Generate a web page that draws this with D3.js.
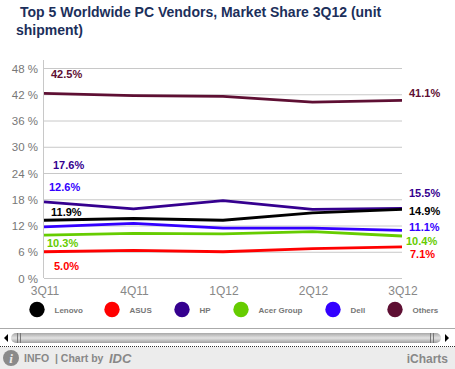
<!DOCTYPE html>
<html>
<head>
<meta charset="utf-8">
<script src="https://cdn.jsdelivr.net/npm/d3@7"></script>
<style>
  html, body { margin: 0; padding: 0; background: #fff; overflow: hidden; }
  text { font-family: "Liberation Sans", Arial, sans-serif; }
</style>
</head>
<body>
<div id="chart"></div>
<script>
// values
var quarters = ["3Q11", "4Q11", "1Q12", "2Q12", "3Q12"];
var names = ["Others", "HP", "Lenovo", "Dell", "Acer Group", "ASUS"];
var others = [42.2, 41.7, 41.5, 40.2, 40.6];
var hp = [17.4, 15.8, 17.7, 15.7, 15.9];
var lenovo = [13.2, 13.6, 13.2, 14.9, 15.7];
var dell = [11.7, 12.5, 11.4, 11.4, 10.9];
var acer = [9.8, 10.2, 10.1, 10.6, 9.6];
var asus = [6.0, 6.3, 6.0, 6.7, 7.1];
var yTicks = [0, 6, 12, 18, 24, 30, 36, 42, 48];

// legend order
var legendNames = ["Lenovo", "ASUS", "HP", "Acer Group", "Dell", "Others"];

// text labels printed on the chart
var startLabels = ["42.5%", "17.6%", "11.9%", "12.6%", "10.3%", "5.0%"];
var endLabels = ["41.1%", "15.5%", "14.9%", "11.1%", "10.4%", "7.1%"];

var series = [others, hp, lenovo, dell, acer, asus];
var color = d3.scaleOrdinal()
  .domain(names)
  .range(["#5e0f33", "#35008f", "#000000", "#3300ff", "#66cc00", "#ff0000"]);

var svg = d3.select("#chart").append("svg")
  .attr("width", 455)
  .attr("height", 369);

// title
svg.append("text").attr("x", 20).attr("y", 17)
  .attr("font-size", 14).attr("font-weight", "bold").attr("fill", "#1c2f5b")
  .text("Top 5 Worldwide PC Vendors, Market Share 3Q12 (unit");
svg.append("text").attr("x", 16).attr("y", 35)
  .attr("font-size", 14).attr("font-weight", "bold").attr("fill", "#1c2f5b")
  .text("shipment)");

var x = d3.scalePoint().domain(quarters).range([44, 402]);
var y = d3.scaleLinear().domain([0, 48]).range([278, 68]);

// grid
svg.append("g").selectAll("line").data(yTicks).enter().append("line")
  .attr("x1", 44).attr("x2", 402)
  .attr("y1", function(d) { return y(d) + .5; })
  .attr("y2", function(d) { return y(d) + .5; })
  .attr("stroke", "#c8c8c8");
svg.append("line").attr("x1", 43.5).attr("x2", 43.5)
  .attr("y1", 60).attr("y2", 278).attr("stroke", "#c8c8c8");

// y axis labels
svg.append("g").selectAll("text").data(yTicks).enter().append("text")
  .attr("x", 38).attr("y", function(d) { return y(d) + 4.5; })
  .attr("text-anchor", "end").attr("font-size", 11.5).attr("fill", "#777")
  .text(function(d) { return d + " %"; });

// x axis labels
svg.append("g").selectAll("text").data(quarters).enter().append("text")
  .attr("x", function(d) { return x(d) + 1; }).attr("y", 295)
  .attr("text-anchor", "middle").attr("font-size", 12).attr("fill", "#888")
  .text(function(d) { return d; });

// the lines
var line = d3.line()
  .x(function(d, i) { return x(quarters[i]); })
  .y(function(d) { return y(d); });

svg.append("g").selectAll("path").data(series).enter().append("path")
  .attr("d", line)
  .attr("fill", "none")
  .attr("stroke-width", 2.8)
  .attr("stroke", function(d, i) { return color(names[i]); });

// start labels, hand placed like the original
var startPos = [[51, 78], [53, 169], [51, 216], [49, 191], [47, 247], [54, 270]];
var startColors = ["Others", "HP", "Lenovo", "Dell", "Acer Group", "ASUS"];
svg.append("g").selectAll("text").data(startLabels).enter().append("text")
  .attr("x", function(d, i) { return startPos[i][0]; })
  .attr("y", function(d, i) { return startPos[i][1]; })
  .attr("font-size", 11).attr("font-weight", "bold")
  .attr("fill", function(d, i) { return color(startColors[i]); })
  .text(function(d) { return d; });

var endPos = [[409, 97], [409, 197], [409, 215], [409, 231], [406, 245], [410, 258]];
var endColors = ["Others", "HP", "Lenovo", "Dell", "Acer Group", "ASUS"];
svg.append("g").selectAll("text").data(endLabels).enter().append("text")
  .attr("x", function(d, i) { return endPos[i][0]; })
  .attr("y", function(d, i) { return endPos[i][1]; })
  .attr("font-size", 11).attr("font-weight", "bold")
  .attr("fill", function(d, i) { return color(endColors[i]); })
  .text(function(d) { return d; });

// legend
var legendX = [37, 112, 182, 241, 333, 395];
var legend = svg.append("g").selectAll("g").data(legendNames).enter().append("g")
  .attr("transform", function(d, i) { return "translate(" + legendX[i] + ",309.5)"; });
legend.append("circle").attr("r", 7.7)
  .attr("fill", function(d) { return color(d); });
legend.append("text").attr("x", 17.5).attr("y", 3.5)
  .attr("font-size", 8).attr("font-weight", "bold").attr("fill", "#777")
  .text(function(d) { return d; });

// scrollbar
var grad = svg.append("defs").append("linearGradient")
  .attr("id", "bar").attr("x1", 0).attr("x2", 0).attr("y1", 0).attr("y2", 1);
grad.append("stop").attr("offset", 0).attr("stop-color", "#a8a8a8");
grad.append("stop").attr("offset", .5).attr("stop-color", "#e2e2e2");
grad.append("stop").attr("offset", 1).attr("stop-color", "#a0a0a0");

svg.append("line").attr("x1", 0).attr("x2", 455).attr("y1", 328.5).attr("y2", 328.5)
  .attr("stroke", "#aaa");
svg.append("rect").attr("x", 11).attr("y", 333).attr("width", 430).attr("height", 10)
  .attr("rx", 5).attr("fill", "url(#bar)");
svg.append("path").attr("d", "M4,338L8,334V342Z").attr("fill", "#000");
svg.append("path").attr("d", "M449,338L445,334V342Z").attr("fill", "#000");
[17, 20, 430, 433].forEach(function(px) {
  svg.append("line").attr("x1", px + .5).attr("x2", px + .5).attr("y1", 333).attr("y2", 343)
    .attr("stroke", "#777");
});

// footer
svg.append("rect").attr("x", 0).attr("y", 347).attr("width", 455).attr("height", 22)
  .attr("fill", "#ececec");
svg.append("line").attr("x1", 0).attr("x2", 455).attr("y1", 346.5).attr("y2", 346.5)
  .attr("stroke", "#333").attr("stroke-dasharray", "1,1");
svg.append("circle").attr("cx", 11).attr("cy", 358).attr("r", 8).attr("fill", "#8a8a8a");
svg.append("text").attr("x", 11).attr("y", 363).attr("text-anchor", "middle")
  .attr("font-size", 13).attr("font-weight", "bold").attr("font-style", "italic")
  .style("font-family", "Liberation Serif").attr("fill", "#ececec").text("i");
svg.append("text").attr("x", 24).attr("y", 362)
  .attr("font-size", 10.5).attr("font-weight", "bold").attr("fill", "#888")
  .text("INFO");
svg.append("text").attr("x", 55).attr("y", 362)
  .attr("font-size", 10.5).attr("font-weight", "bold").attr("fill", "#888")
  .text("| Chart by");
svg.append("text").attr("x", 109).attr("y", 363)
  .attr("font-size", 13).attr("font-weight", "bold").attr("font-style", "italic").attr("fill", "#888")
  .text("IDC");
svg.append("text").attr("x", 448).attr("y", 363).attr("text-anchor", "end")
  .attr("font-size", 12).attr("font-weight", "bold").attr("fill", "#888")
  .text("iCharts");
</script>
</body>
</html>
